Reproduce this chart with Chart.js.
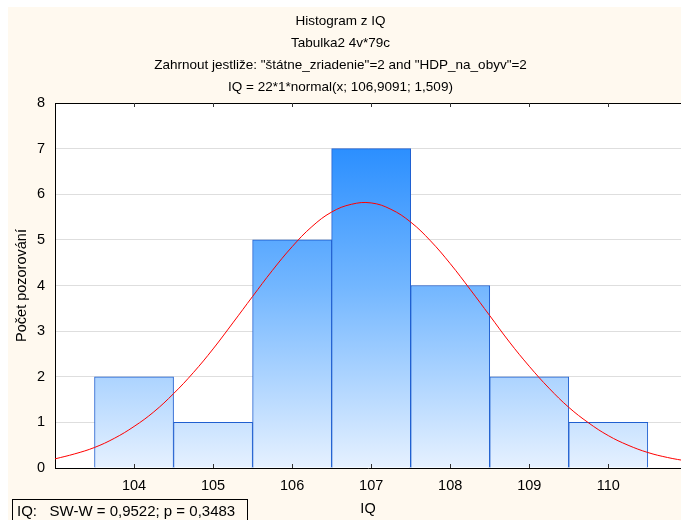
<!DOCTYPE html>
<html>
<head>
<meta charset="utf-8">
<script src="https://cdn.jsdelivr.net/npm/chart.js@4.4.1/dist/chart.umd.min.js"></script>
<style>
  html, body { margin: 0; padding: 0; background: #fff; }
  #wrap { width: 681px; height: 520px; }
</style>
</head>
<body>
<div id="wrap"><canvas id="chart" width="681" height="520"></canvas></div>
<script>
// chart texts
const titleLines = [
  'Histogram z IQ',
  'Tabulka2 4v*79c',
  'Zahrnout jestliže: "štátne_zriadenie"=2 and "HDP_na_obyv"=2',
  'IQ = 22*1*normal(x; 106,9091; 1,509)'
];
const xTitle = 'IQ';
const yTitle = 'Počet pozorování';
const swText = 'IQ:   SW-W = 0,9522; p = 0,3483';

// histogram bins (centres) and counts
const binCenters = [104, 105, 106, 107, 108, 109, 110];
const binCounts = [2, 1, 5, 7, 4, 2, 1];

// fitted normal curve
const curveX = [103, 103.25, 103.5, 103.75, 104, 104.25, 104.5, 104.75, 105, 105.25, 105.5,
  105.75, 106, 106.25, 106.5, 106.75, 107, 107.25, 107.5, 107.75, 108, 108.25, 108.5,
  108.75, 109, 109.25, 109.5, 109.75, 110, 110.25, 110.5, 110.75, 111];
const curveY = [0.20, 0.31, 0.45, 0.65, 0.91, 1.23, 1.63, 2.09, 2.61, 3.18, 3.76,
  4.33, 4.85, 5.29, 5.61, 5.78, 5.81, 5.67, 5.39, 4.98, 4.48, 3.92, 3.34,
  2.76, 2.23, 1.75, 1.33, 0.99, 0.71, 0.50, 0.34, 0.23, 0.15];

// axes
const xTicks = [104, 105, 106, 107, 108, 109, 110];
const yTicks = [0, 1, 2, 3, 4, 5, 6, 7, 8];
const xMin = 103, xMax = 110.92;

const FONT = 'Liberation Sans, Arial, sans-serif';
Chart.defaults.font.family = FONT;
Chart.defaults.color = '#000';

function barGradient(context) {
  const area = context.chart.chartArea;
  if (!area) return '#8cc4ff';
  const g = context.chart.ctx.createLinearGradient(0, area.top, 0, area.bottom);
  g.addColorStop(0, '#1482ff');
  g.addColorStop(0.5, '#72b6ff');
  g.addColorStop(1, '#e6f1ff');
  return g;
}

const decorations = {
  id: 'decorations',
  beforeDraw(chart) {
    const { ctx, chartArea: a } = chart;
    ctx.save();
    ctx.fillStyle = '#ffffff';
    ctx.fillRect(0, 0, chart.width, chart.height);
    ctx.fillStyle = '#fff9ef';
    ctx.fillRect(8, 7, chart.width - 8, chart.height - 7);
    ctx.fillStyle = '#ffffff';
    ctx.fillRect(a.left, a.top, a.right - a.left, a.bottom - a.top);
    ctx.restore();
  },
  afterDraw(chart) {
    const { ctx, chartArea: a } = chart;
    const xs = chart.scales.x;
    ctx.save();
    // top frame line
    ctx.strokeStyle = '#000';
    ctx.lineWidth = 1;
    ctx.beginPath();
    ctx.moveTo(a.left, Math.round(a.top) + 0.5);
    ctx.lineTo(a.right, Math.round(a.top) + 0.5);
    ctx.stroke();
    // inward ticks top & bottom
    ctx.strokeStyle = '#333';
    ctx.beginPath();
    for (const v of xTicks) {
      const px = Math.round(xs.getPixelForValue(v)) + 0.5;
      ctx.moveTo(px, Math.round(a.top));
      ctx.lineTo(px, Math.round(a.top) + 4);
      ctx.moveTo(px, Math.round(a.bottom));
      ctx.lineTo(px, Math.round(a.bottom) - 4);
    }
    ctx.stroke();
    // titles
    ctx.fillStyle = '#000';
    ctx.font = '13.5px ' + FONT;
    ctx.textAlign = 'center';
    ctx.textBaseline = 'middle';
    titleLines.forEach((t, i) => ctx.fillText(t, chart.width / 2, 21 + i * 22));
    // Shapiro-Wilk box
    ctx.strokeStyle = '#000';
    ctx.strokeRect(12.5, 499.5, 235, 30);
    ctx.font = '15px ' + FONT;
    ctx.textAlign = 'left';
    ctx.fillText(swText, 17, 512);
    ctx.restore();
  }
};

new Chart(document.getElementById('chart'), {
  data: {
    datasets: [
      {
        type: 'line',
        data: curveX.map((x, i) => ({ x, y: curveY[i] })),
        borderColor: '#ff0000',
        borderWidth: 1,
        pointRadius: 0,
        tension: 0.4,
        fill: false,
        order: 1
      },
      {
        type: 'bar',
        data: binCenters.map((x, i) => ({ x, y: binCounts[i] })),
        backgroundColor: barGradient,
        borderColor: '#1f5fd0',
        borderWidth: 1,
        barPercentage: 1,
        categoryPercentage: 1,
        order: 2
      }
    ]
  },
  options: {
    responsive: false,
    devicePixelRatio: 1,
    animation: false,
    layout: { padding: { top: 103, left: 0, right: 0, bottom: 0 } },
    plugins: { legend: { display: false }, tooltip: { enabled: false }, title: { display: false } },
    scales: {
      x: {
        type: 'linear',
        offset: false,
        min: xMin,
        max: xMax,
        afterBuildTicks: s => { s.ticks = xTicks.map(v => ({ value: v })); },
        afterFit: s => { s.height = 52; },
        ticks: { font: { size: 14.5 }, padding: 9, color: '#000', maxRotation: 0 },
        grid: { display: false, drawTicks: false, offset: false },
        border: { display: true, color: '#000', width: 1 },
        title: { display: true, text: xTitle, font: { size: 14.5 }, color: '#000', padding: { top: 0, bottom: 2 } }
      },
      y: {
        min: 0,
        max: 8,
        afterBuildTicks: s => { s.ticks = yTicks.map(v => ({ value: v })); },
        afterFit: s => { s.width = 55; },
        ticks: { font: { size: 14.5 }, padding: 10, color: '#000' },
        grid: { color: '#dedede', drawTicks: false },
        border: { display: true, color: '#000', width: 1 },
        title: { display: true, text: yTitle, font: { size: 14.5 }, color: '#000', padding: { top: 13, bottom: 0 } }
      }
    }
  },
  plugins: [decorations]
});
</script>
</body>
</html>
